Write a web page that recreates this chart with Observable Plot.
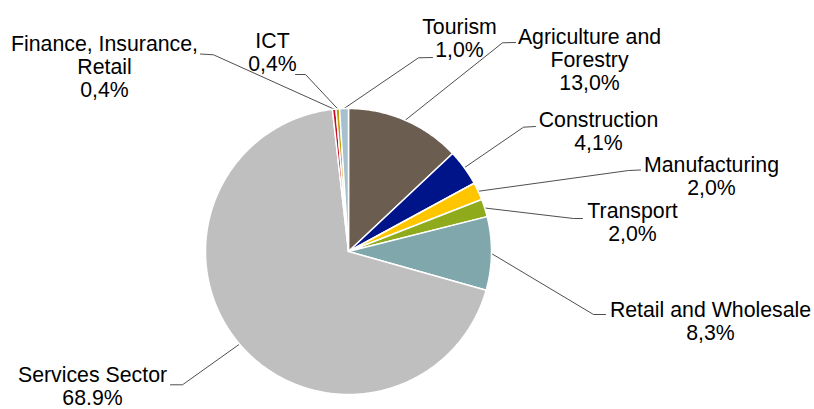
<!DOCTYPE html>
<html>
<head>
<meta charset="utf-8">
<script src="https://cdn.jsdelivr.net/npm/d3@7"></script>
<script src="https://cdn.jsdelivr.net/npm/@observablehq/plot@0.6"></script>
<style>
  html, body { margin: 0; padding: 0; background: #ffffff; }
  #chart { width: 814px; height: 409px; }
</style>
</head>
<body>
<div id="chart"></div>
<script>
// ---- data (clockwise from 12 o'clock) ----
const categories = [
  "Agriculture and\nForestry",
  "Construction",
  "Manufacturing",
  "Transport",
  "Retail and Wholesale",
  "Services Sector",
  "Finance, Insurance,\nRetail",
  "ICT",
  "Tourism"
];
const values = [13.0, 4.1, 2.0, 2.0, 8.3, 68.9, 0.4, 0.4, 1.0];
const valueLabels = ["13,0%", "4,1%", "2,0%", "2,0%", "8,3%", "68.9%", "0,4%", "0,4%", "1,0%"];
const sliceColors = ["#6b5e51", "#00148a", "#ffc600", "#8fab1b", "#7fa7ac", "#bfbfbf", "#c8102e", "#c09a00", "#a7c0cf"];

// ---- layout (pixels) ----
const W = 814, H = 409;
const cx = 348, cy = 251, R = 143;
// label: centre x, baseline of last line; leader: elbow and end points
const labelLayout = [
  {x: 589, y: 89.5, elbow: [502, 42.3], end: [515, 42]},
  {x: 598, y: 149.5, elbow: [523, 126.7], end: [535, 126]},
  {x: 711, y: 194.5, elbow: [628, 170], end: [640, 169.5]},
  {x: 632, y: 240, elbow: [573, 218], end: [582, 218]},
  {x: 710, y: 339.5, elbow: [593, 314], end: [605, 314]},
  {x: 92, y: 404.5, elbow: [182, 384.3], end: [170, 384.3]},
  {x: 104, y: 96, elbow: [213, 54.3], end: [200, 53.5]},
  {x: 272, y: 70, elbow: [305, 74], end: [295, 74]},
  {x: 459, y: 56, elbow: [418, 57.3], end: [432, 57]}
];

// ---- build geometry from data ----
const rows = categories.map((c, i) => ({name: c, value: values[i], label: valueLabels[i], color: sliceColors[i]}));
const arcs = d3.pie().sort(null).value(d => d.value).startAngle(0).endAngle(2 * Math.PI)(rows);
const pt = (a, r) => [cx + r * Math.sin(a), cy - r * Math.cos(a)];

const slicePts = [];
arcs.forEach(a => {
  slicePts.push({name: a.data.name, x: cx, y: cy});
  const n = Math.max(2, Math.ceil((a.endAngle - a.startAngle) / (Math.PI / 360)));
  for (let k = 0; k <= n; k++) {
    const t = a.startAngle + (a.endAngle - a.startAngle) * k / n;
    const [x, y] = pt(t, R);
    slicePts.push({name: a.data.name, x, y});
  }
});

const leaderPts = [];
arcs.forEach((a, i) => {
  const mid = (a.startAngle + a.endAngle) / 2;
  const [sx, sy] = pt(mid, R);
  const L = labelLayout[i];
  leaderPts.push({name: a.data.name, x: sx, y: sy});
  leaderPts.push({name: a.data.name, x: L.elbow[0], y: L.elbow[1]});
  leaderPts.push({name: a.data.name, x: L.end[0], y: L.end[1]});
});

const labels = arcs.map((a, i) => ({
  text: a.data.name + "\n" + a.data.label,
  x: labelLayout[i].x,
  y: labelLayout[i].y
}));

const chart = Plot.plot({
  width: W,
  height: H,
  margin: 0,
  x: {domain: [0, W], range: [0, W], axis: null},
  y: {domain: [0, H], range: [0, H], axis: null},
  color: {domain: categories, range: sliceColors},
  style: {fontFamily: "'Liberation Sans', Arial, sans-serif", background: "#ffffff", overflow: "visible"},
  marks: [
    Plot.line(leaderPts, {x: "x", y: "y", z: "name", stroke: "#3a3a3a", strokeWidth: 0.9}),
    Plot.line(slicePts, {x: "x", y: "y", z: "name", fill: "name", stroke: "#ffffff", strokeWidth: 1.5, curve: "linear-closed", strokeLinejoin: "round"}),
    Plot.text(labels, {x: "x", y: "y", text: "text", textAnchor: "middle", lineAnchor: "bottom", lineHeight: 23 / 21.3, fontSize: 21.3, fill: "#000000"})
  ]
});
document.getElementById("chart").appendChild(chart);
</script>
</body>
</html>
